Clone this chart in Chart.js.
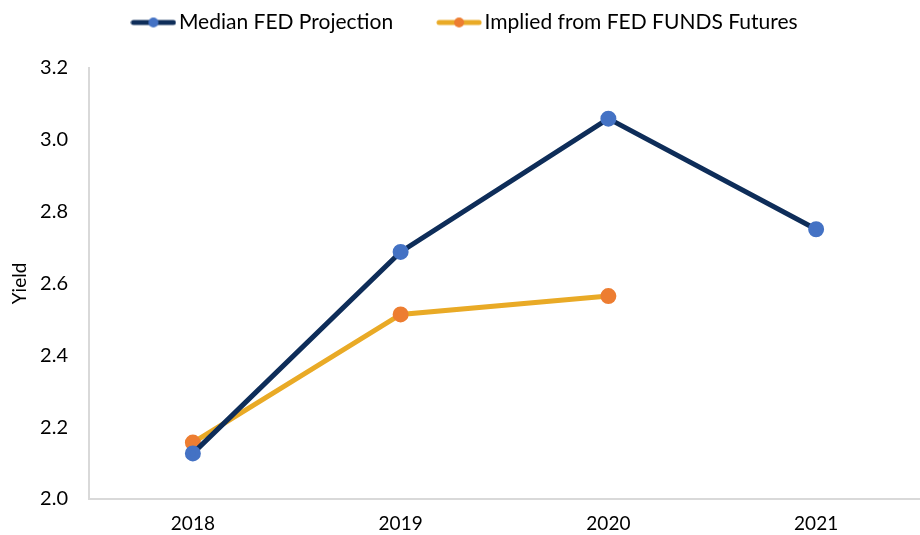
<!DOCTYPE html>
<html>
<head>
<meta charset="utf-8">
<script src="https://cdn.jsdelivr.net/npm/chart.js@4/dist/chart.umd.min.js"></script>
<style>
  html, body { margin: 0; padding: 0; background: #fff; }
  #wrap { width: 920px; height: 535px; position: relative; }
</style>
</head>
<body>
<div id="wrap"><canvas id="myChart"></canvas></div>
<script>
const years = ['2018', '2019', '2020', '2021'];
const medianFed = [2.127, 2.688, 3.059, 2.751];
const impliedFutures = [2.157, 2.514, 2.565, null];
const yTicks = [2.0, 2.2, 2.4, 2.6, 2.8, 3.0, 3.2];

const NAVY = '#0e2d59';
const BLUE = '#4472c4';
const GOLD = '#e9aa26';
const ORANGE = '#ed7d31';

// legend swatch: thick line with a dot in the middle
function legendIcon(lineColor, dotColor) {
    const c = document.createElement('canvas');
    c.width = 46;
    c.height = 12;
    const g = c.getContext('2d');
    g.strokeStyle = lineColor;
    g.lineWidth = 5;
    g.lineCap = 'round';
    g.beginPath();
    g.moveTo(3, 6);
    g.lineTo(43, 6);
    g.stroke();
    g.fillStyle = dotColor;
    g.beginPath();
    g.arc(23, 6, 5, 0, Math.PI * 2);
    g.fill();
    return c;
}

// legend sits near the top edge, plot starts lower down
const legendPlace = {
    id: 'legendPlace',
    beforeInit(chart) {
        const fit = chart.legend.fit;
        chart.legend.fit = function () {
            fit.bind(chart.legend)();
            this.height = 68;
        };
    },
    afterLayout(chart) {
        chart.legend.top = -39;
        chart.legend.bottom = 60;
        chart.legend.left = 8;
        chart.legend.right = 928;
    }
};

Chart.defaults.font.family = 'Lato, "Open Sans", sans-serif';
Chart.defaults.color = '#000';

const ctx = document.getElementById('myChart').getContext('2d');
new Chart(ctx, {
    type: 'line',
    data: {
        labels: years,
        datasets: [
            {
                label: 'Median FED Projection',
                data: medianFed,
                borderColor: NAVY,
                backgroundColor: BLUE,
                pointBackgroundColor: BLUE,
                pointBorderColor: BLUE,
                pointRadius: 5.5,
                borderWidth: 5,
                tension: 0
            },
            {
                label: 'Implied from FED FUNDS Futures',
                data: impliedFutures,
                borderColor: GOLD,
                backgroundColor: ORANGE,
                pointBackgroundColor: ORANGE,
                pointBorderColor: ORANGE,
                pointRadius: 5.5,
                borderWidth: 5,
                tension: 0
            }
        ]
    },
    options: {
        responsive: true,
        maintainAspectRatio: false,
        animation: false,
        layout: { autoPadding: false, padding: { left: 0, right: -11, top: 0, bottom: 0 } },
        scales: {
            x: {
                offset: true,
                afterFit: axis => {
                    axis.height = 36;
                    axis.paddingLeft = 0;
                    axis.paddingRight = 0;
                },
                grid: { display: false, drawTicks: false },
                border: { color: '#d9d9d9', width: 2 },
                ticks: { font: { size: 19 }, padding: 13 }
            },
            y: {
                min: 2.0,
                max: 3.2,
                afterFit: axis => { axis.width = 89; },
                afterBuildTicks: axis => { axis.ticks = yTicks.map(v => ({ value: v })); },
                grid: { display: false, drawTicks: false },
                border: { color: '#d9d9d9', width: 2 },
                ticks: {
                    font: { size: 20 },
                    padding: 21,
                    callback: v => v.toFixed(1)
                },
                title: {
                    display: true,
                    text: 'Yield',
                    font: { size: 19 },
                    padding: { top: 8, bottom: 0 }
                }
            }
        },
        plugins: {
            legend: {
                position: 'top',
                labels: {
                    usePointStyle: true,
                    pointStyleWidth: 30,
                    font: { size: 21 },
                    padding: 51,
                    boxHeight: 12,
                    generateLabels: chart => chart.data.datasets.map((ds, i) => ({
                        text: ds.label,
                        pointStyle: legendIcon(ds.borderColor, ds.pointBackgroundColor),
                        fillStyle: ds.pointBackgroundColor,
                        strokeStyle: ds.borderColor,
                        lineWidth: 0,
                        datasetIndex: i,
                        hidden: false
                    }))
                }
            },
            tooltip: { enabled: false }
        }
    },
    plugins: [legendPlace]
});
</script>
</body>
</html>
